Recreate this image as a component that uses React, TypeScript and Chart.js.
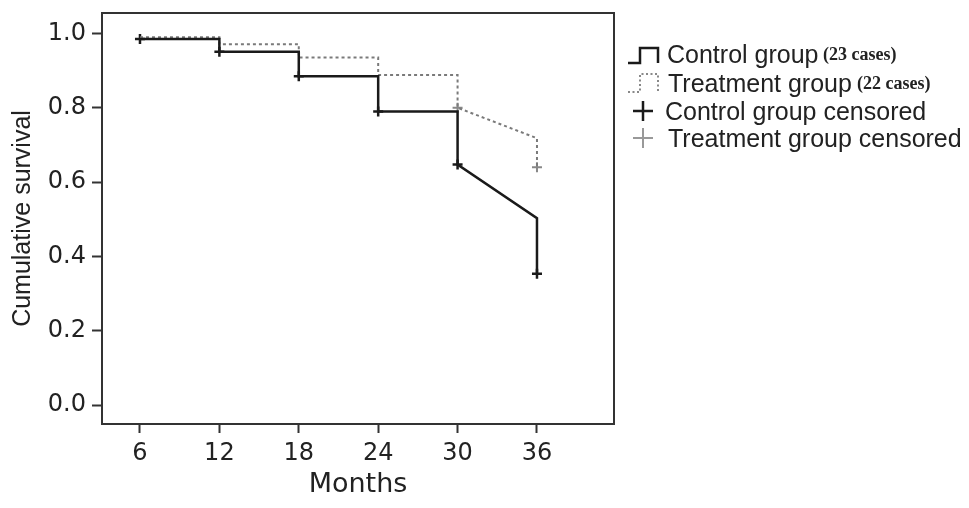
import React, { useEffect, useRef } from "react";
import { Chart, registerables } from "chart.js";

Chart.register(...registerables);

// ---- Data ----
const controlMonths = [6, 12, 12, 18, 18, 24, 24, 30, 30, 36, 36];
const controlSurvival = [0.985, 0.985, 0.951, 0.951, 0.885, 0.885, 0.79, 0.79, 0.647, 0.503, 0.353];

const treatmentMonths = [6, 12, 12, 18, 18, 24, 24, 30, 30, 36, 36];
const treatmentSurvival = [0.99, 0.99, 0.971, 0.971, 0.935, 0.935, 0.888, 0.888, 0.8, 0.718, 0.64];

const controlCensoredMonths = [6, 12, 18, 24, 30, 36];
const controlCensoredSurvival = [0.985, 0.951, 0.885, 0.79, 0.647, 0.353];

const treatmentCensoredMonths = [30, 36];
const treatmentCensoredSurvival = [0.8, 0.64];

const xTickValues = [6, 12, 18, 24, 30, 36];
const yTickValues = [0, 0.2, 0.4, 0.6, 0.8, 1.0];

const legendLabels = [
  "Control group",
  "Treatment group",
  "Control group censored",
  "Treatment group censored",
];
const legendNotes = ["(23 cases)", "(22 cases)"];

const SANS = '"Liberation Sans", Arial, Helvetica, sans-serif';
const WIDE = '"DejaVu Sans", "Liberation Sans", sans-serif';
const SERIF = '"Liberation Serif", "Times New Roman", serif';

const toPoints = (xs: number[], ys: number[]) => xs.map((x, i) => ({ x, y: ys[i] }));

const framePlugin = {
  id: "frame",
  afterDatasetsDraw(chart: any) {
    const { ctx, chartArea } = chart;
    ctx.save();
    ctx.strokeStyle = "#333";
    ctx.lineWidth = 2;
    ctx.strokeRect(chartArea.left, chartArea.top, chartArea.right - chartArea.left, chartArea.bottom - chartArea.top);
    ctx.restore();
  },
};

const legendPlugin = {
  id: "kmLegend",
  afterDraw(chart: any) {
    const { ctx } = chart;
    ctx.save();
    // row 1: control step icon
    ctx.strokeStyle = "#1a1a1a";
    ctx.lineWidth = 2.5;
    ctx.beginPath();
    ctx.moveTo(628, 63);
    ctx.lineTo(640, 63);
    ctx.lineTo(640, 48);
    ctx.lineTo(658, 48);
    ctx.lineTo(658, 63);
    ctx.stroke();
    // row 2: treatment dotted step icon
    ctx.strokeStyle = "#888";
    ctx.lineWidth = 2;
    ctx.setLineDash([2, 2.5]);
    ctx.beginPath();
    ctx.moveTo(628, 92);
    ctx.lineTo(640, 92);
    ctx.lineTo(640, 74);
    ctx.lineTo(658, 74);
    ctx.lineTo(658, 92);
    ctx.stroke();
    ctx.setLineDash([]);
    // row 3: black plus
    ctx.strokeStyle = "#1a1a1a";
    ctx.lineWidth = 2.5;
    ctx.beginPath();
    ctx.moveTo(633, 111);
    ctx.lineTo(653, 111);
    ctx.moveTo(643, 101);
    ctx.lineTo(643, 121);
    ctx.stroke();
    // row 4: grey plus
    ctx.strokeStyle = "#999";
    ctx.lineWidth = 2;
    ctx.beginPath();
    ctx.moveTo(633, 138);
    ctx.lineTo(653, 138);
    ctx.moveTo(643, 128);
    ctx.lineTo(643, 148);
    ctx.stroke();

    ctx.fillStyle = "#222";
    ctx.textBaseline = "alphabetic";
    ctx.textAlign = "left";
    ctx.font = `25px ${SANS}`;
    const baselines = [63, 92, 120, 147];
    const xs = [667, 668, 665, 668];
    legendLabels.forEach((t, i) => ctx.fillText(t, xs[i], baselines[i]));
    ctx.font = `bold 18px ${SERIF}`;
    ctx.fillText(legendNotes[0], 823, 60);
    ctx.fillText(legendNotes[1], 857, 89);
    ctx.restore();
  },
};

export default function App() {
  const ref = useRef<HTMLCanvasElement | null>(null);

  useEffect(() => {
    if (!ref.current) return;
    const chart = new Chart(ref.current, {
      type: "line",
      data: {
        datasets: [
          {
            label: "Control group",
            data: toPoints(controlMonths, controlSurvival),
            borderColor: "#1a1a1a",
            borderWidth: 2.5,
            pointRadius: 0,
            tension: 0,
            fill: false,
          },
          {
            label: "Treatment group",
            data: toPoints(treatmentMonths, treatmentSurvival),
            borderColor: "#7a7a7a",
            borderWidth: 2,
            borderDash: [3, 3],
            pointRadius: 0,
            tension: 0,
            fill: false,
          },
          {
            label: "Control group censored",
            data: toPoints(controlCensoredMonths, controlCensoredSurvival),
            showLine: false,
            pointStyle: "cross",
            pointRadius: 5,
            pointBorderWidth: 2.5,
            pointBorderColor: "#1a1a1a",
            borderColor: "#1a1a1a",
          },
          {
            label: "Treatment group censored",
            data: toPoints(treatmentCensoredMonths, treatmentCensoredSurvival),
            showLine: false,
            pointStyle: "cross",
            pointRadius: 5,
            pointBorderWidth: 2,
            pointBorderColor: "#888",
            borderColor: "#888",
          },
        ],
      },
      options: {
        animation: false,
        responsive: false,
        devicePixelRatio: 1,
        layout: { padding: { top: 13, right: 355, bottom: 0, left: 0 } },
        plugins: { legend: { display: false }, tooltip: { enabled: false } },
        scales: {
          x: {
            type: "linear",
            min: 3.13,
            max: 41.82,
            afterFit: (s: any) => {
              s.height = 84;
              s.paddingLeft = 0;
              s.paddingRight = 0;
            },
            afterBuildTicks: (s: any) => {
              s.ticks = xTickValues.map((v) => ({ value: v }));
            },
            grid: { drawOnChartArea: false, drawTicks: true, tickLength: 9, tickColor: "#333", tickWidth: 2 },
            border: { display: false },
            ticks: { color: "#222", font: { size: 24, family: WIDE }, padding: 6, maxRotation: 0 },
            title: {
              display: true,
              text: "Months",
              color: "#222",
              font: { size: 27, family: WIDE },
              padding: { top: 0, bottom: 7 },
            },
          },
          y: {
            type: "linear",
            min: -0.051,
            max: 1.055,
            afterFit: (s: any) => {
              s.width = 102;
              s.paddingTop = 0;
              s.paddingBottom = 0;
            },
            afterBuildTicks: (s: any) => {
              s.ticks = yTickValues.map((v) => ({ value: v }));
            },
            grid: { drawOnChartArea: false, drawTicks: true, tickLength: 10, tickColor: "#333", tickWidth: 2 },
            border: { display: false },
            ticks: {
              color: "#222",
              font: { size: 24, family: WIDE },
              padding: 6,
              callback: (v: any) => Number(v).toFixed(1),
            },
            title: {
              display: true,
              text: "Cumulative survival",
              color: "#222",
              font: { size: 25, family: SANS },
              padding: { top: 8, bottom: 0 },
            },
          },
        },
      },
      plugins: [framePlugin, legendPlugin],
    });
    return () => chart.destroy();
  }, []);

  return (
    <div style={{ position: "absolute", left: 0, top: 0, width: 969, height: 508, background: "#fff" }}>
      <canvas ref={ref} width={969} height={508} style={{ display: "block", width: 969, height: 508 }} />
    </div>
  );
}
